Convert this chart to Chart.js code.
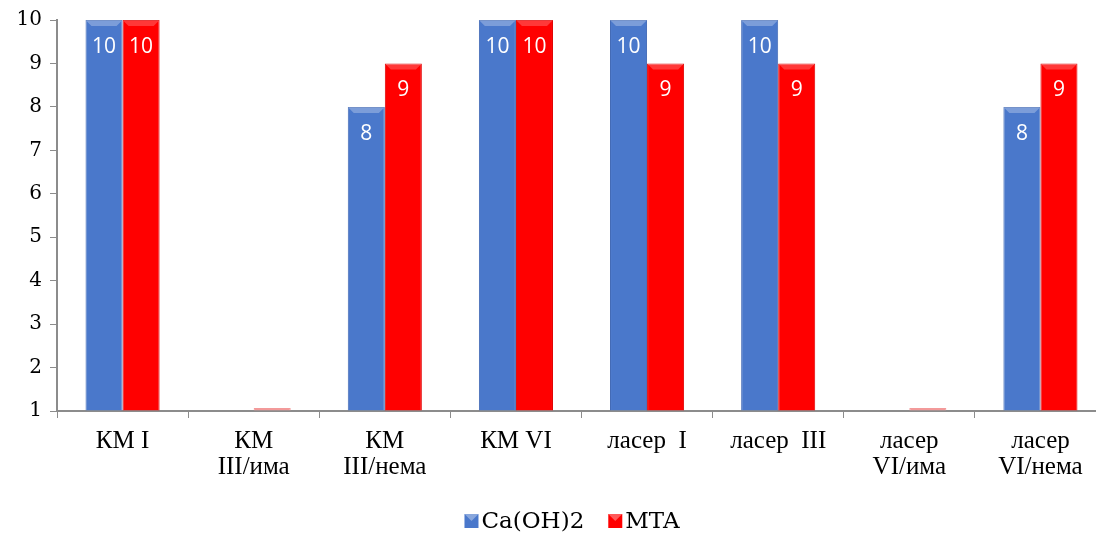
<!DOCTYPE html>
<html>
<head>
<meta charset="utf-8">
<script src="https://cdn.jsdelivr.net/npm/chart.js@4.4.1/dist/chart.umd.min.js"></script>
<style>
  html, body { margin: 0; padding: 0; background: #fff; overflow: hidden; }
  #chart { display: block; }
</style>
</head>
<body>
<canvas id="chart" width="1144" height="535"></canvas>
<script>
// categories and series values
const categories = [
  'КМ I',
  ['КМ', 'III/има'],
  ['КМ', 'III/нема'],
  'КМ VI',
  'ласер  I',
  'ласер  III',
  ['ласер', 'VI/има'],
  ['ласер', 'VI/нема']
];
const caOH2 = [10, null, 8, 10, 10, 10, null, 8];
const mta = [10, 1, 9, 10, 9, 9, 1, 9];
const yTicks = [1, 2, 3, 4, 5, 6, 7, 8, 9, 10];

const BLUE = '#4a78cb';
const RED = '#ff0000';

// horizontal shading so the bars look slightly bevelled
function barFill(base, edge, flat) {
  return (c) => {
    if (c.raw != null && c.raw <= 1) return flat;
    const el = c.element;
    if (!el || el.width == null || !isFinite(el.x)) return base;
    const left = el.x - el.width / 2;
    const g = c.chart.ctx.createLinearGradient(left, 0, left + el.width, 0);
    g.addColorStop(0, edge);
    g.addColorStop(0.08, base);
    g.addColorStop(0.88, base);
    g.addColorStop(1, edge);
    return g;
  };
}

// lighter chamfer on top of each bar
const topBevel = {
  id: 'topBevel',
  afterDatasetsDraw(chart) {
    const ctx = chart.ctx;
    const tints = ['rgba(255,255,255,0.28)', 'rgba(255,255,255,0.22)'];
    ctx.save();
    chart.data.datasets.forEach((ds, i) => {
      chart.getDatasetMeta(i).data.forEach((bar, j) => {
        const v = ds.data[j];
        if (v == null || v <= 1) return;
        const l = bar.x - bar.width / 2, r = bar.x + bar.width / 2, t = bar.y, h = 6;
        ctx.fillStyle = tints[i];
        ctx.beginPath();
        ctx.moveTo(l, t);
        ctx.lineTo(r, t);
        ctx.lineTo(r - h, t + h);
        ctx.lineTo(l + h, t + h);
        ctx.closePath();
        ctx.fill();
      });
    });
    ctx.restore();
  }
};

// white value labels near the top of each bar
const valueLabels = {
  id: 'valueLabels',
  afterDatasetsDraw(chart) {
    const ctx = chart.ctx;
    ctx.save();
    ctx.fillStyle = '#ffffff';
    ctx.font = '21px "Open Sans", sans-serif';
    ctx.textAlign = 'center';
    ctx.textBaseline = 'middle';
    chart.data.datasets.forEach((ds, i) => {
      const meta = chart.getDatasetMeta(i);
      meta.data.forEach((bar, j) => {
        const v = ds.data[j];
        if (v == null || v <= 1) return;
        ctx.fillText(String(v), bar.x, bar.y + 27);
      });
    });
    ctx.restore();
  }
};

// legend drawn under the plot
const bottomLegend = {
  id: 'bottomLegend',
  afterDraw(chart) {
    const ctx = chart.ctx;
    ctx.save();
    ctx.font = '23px "DejaVu Serif", serif';
    ctx.textBaseline = 'middle';
    const box = 14, gap = 3, itemGap = 24;
    const items = chart.data.datasets.map((ds, i) => ({ text: ds.label, color: i ? RED : BLUE }));
    let total = 0;
    items.forEach((it, i) => {
      it.w = box + gap + ctx.measureText(it.text).width;
      total += it.w + (i ? itemGap : 0);
    });
    let x = 572 - total / 2;
    const y = 521;
    items.forEach(it => {
      ctx.fillStyle = it.color;
      ctx.fillRect(x, y - box / 2, box, box);
      ctx.fillStyle = 'rgba(255,255,255,0.35)';
      ctx.beginPath();
      ctx.moveTo(x, y - box / 2);
      ctx.lineTo(x + box, y - box / 2);
      ctx.lineTo(x + box / 2, y);
      ctx.closePath();
      ctx.fill();
      ctx.fillStyle = '#000';
      ctx.fillText(it.text, x + box + gap, y + 1);
      x += it.w + itemGap;
    });
    ctx.restore();
  }
};

new Chart(document.getElementById('chart'), {
  type: 'bar',
  data: {
    labels: categories,
    datasets: [
      {
        label: 'Ca(OH)2',
        data: caOH2,
        base: 1,
        backgroundColor: barFill(BLUE, '#3a62ad', '#c9d6ef'),
        borderColor: '#4169b5',
        borderWidth: 1,
        categoryPercentage: 0.565,
        barPercentage: 1
      },
      {
        label: 'MTA',
        data: mta,
        base: 1,
        backgroundColor: barFill(RED, '#d00000', '#f39a9a'),
        borderColor: (c) => (c.raw != null && c.raw <= 1 ? '#f39a9a' : '#e00000'),
        borderWidth: 1,
        minBarLength: 3,
        clip: false,
        categoryPercentage: 0.565,
        barPercentage: 1
      }
    ]
  },
  options: {
    responsive: false,
    animation: false,
    layout: { padding: { top: 19, right: 38, bottom: 40, left: 0 } },
    plugins: {
      legend: { display: false },
      tooltip: { enabled: false }
    },
    scales: {
      x: {
        z: 1,
        grid: {
          offset: true,
          drawOnChartArea: false,
          color: '#8c8c8c',
          tickLength: 7
        },
        border: { color: '#8c8c8c', width: 2 },
        ticks: {
          color: '#000',
          font: { family: '"Liberation Serif", serif', size: 25, lineHeight: 1.05 },
          maxRotation: 0,
          autoSkip: false,
          padding: 10
        },
        afterFit(scale) { scale.height = 84; }
      },
      y: {
        min: 1,
        max: 10,
        afterBuildTicks(scale) { scale.ticks = yTicks.map(v => ({ value: v })); },
        grid: {
          drawOnChartArea: false,
          color: '#8c8c8c',
          tickLength: 7
        },
        border: { color: '#8c8c8c', width: 2 },
        ticks: {
          color: '#000',
          font: { family: '"DejaVu Serif", serif', size: 20 },
          padding: 8
        },
        afterFit(scale) { scale.width = 57; }
      }
    }
  },
  plugins: [topBevel, valueLabels, bottomLegend]
});
</script>
</body>
</html>
